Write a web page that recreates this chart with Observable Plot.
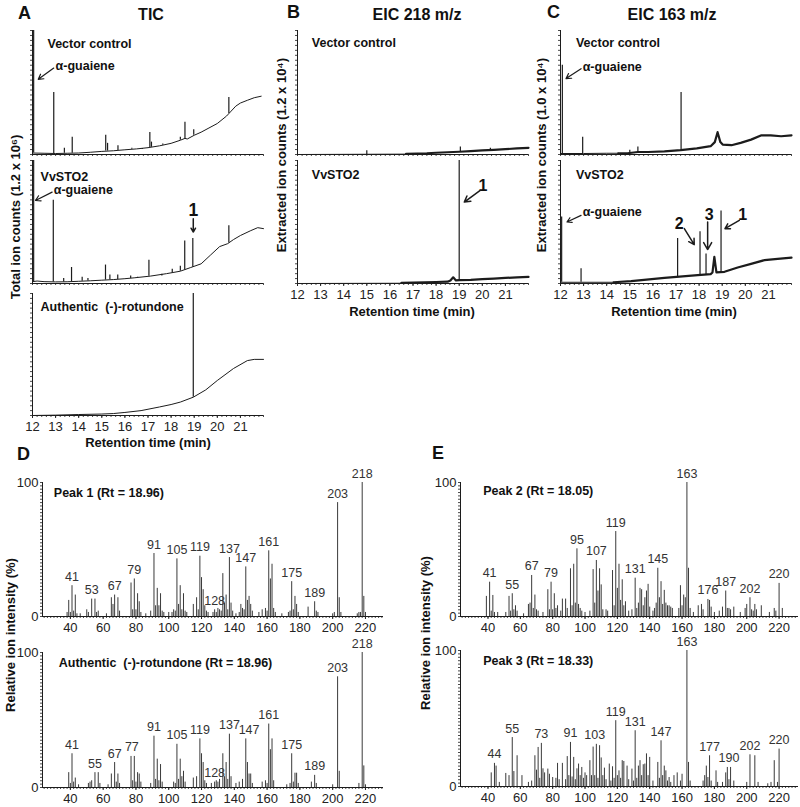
<!DOCTYPE html>
<html><head><meta charset="utf-8">
<script src="https://cdn.jsdelivr.net/npm/d3@7"></script>
<script src="https://cdn.jsdelivr.net/npm/@observablehq/plot@0.6"></script>
<style>
body{margin:0;background:#fff;font-family:"Liberation Sans",Arial,sans-serif;}
#fig{position:relative;width:800px;height:807px;overflow:hidden;background:#fff;}
.lbl{position:absolute;white-space:nowrap;color:#111;line-height:1;}
</style></head><body><div id="fig"></div>
<script>
// ---------------- DATA ----------------
const rtTicks = [12,13,14,15,16,17,18,19,20,21];
const mzTicks = [40,60,80,100,120,140,160,180,200,220];

// Panel A : TIC (relative %, 100 = full panel)   baseline [t, y]; peaks [t, base, top]
const ticVectorBase = [[12.0,1.2],[12.5,1],[13,0.8],[13.5,1],[14,1.2],[14.5,1.8],[15,2.5],[15.5,3],[16,3.8],[16.5,4.5],[17,5.5],[17.5,7],[18,9],[18.4,11.5],[18.6,13],[18.7,12.5],[19,15.5],[19.3,18],[19.6,21],[20,25],[20.4,31],[20.6,35],[20.8,39],[21,41.5],[21.3,43.7],[21.6,45.8],[21.9,47]];
const ticVectorPeaks = [[12.05,1.2,100],[12.92,0.8,50],[13.38,1,5],[13.72,1.1,14],[15.17,2.8,15.5],[15.25,2.8,9],[15.7,3.3,7],[16.3,4.2,5],[16.75,4.8,4],[17.08,5.6,17.7],[17.15,5.8,10],[17.64,7.5,8.5],[18.4,11.5,14],[18.6,12.5,26],[18.98,15.5,20],[20.5,33,46]];
const ticSto2Base = [[12.0,1.5],[12.2,2],[12.5,1.5],[13,1.3],[13.5,1.4],[14,1.8],[14.5,2.2],[15,2.7],[15.5,3.2],[16,3.9],[16.4,4.6],[17.1,6],[17.8,8],[18.4,10],[18.85,13],[19.3,16],[19.7,23],[20.1,30],[20.45,32.4],[20.7,35.7],[21,39],[21.45,43],[21.75,45.4],[22,44.6]];
const ticSto2Peaks = [[12.05,1.5,100],[12.9,1.3,67.6],[13.35,1.3,4],[13.69,1.5,13],[14.15,1.9,5],[14.4,2.1,4],[15.16,2.8,15],[15.35,3,7],[15.69,3.3,7],[16.25,4,6],[16.55,4.7,5],[17.04,5.8,19],[17.6,7.5,6],[18.05,8.6,11.6],[18.4,10,14],[18.59,11,34.6],[18.94,13.3,36.5],[20.5,33,47]];
const ticRotBase = [[12,0],[13,0.3],[14,0.8],[15,1.2],[15.5,1.6],[16,2.5],[16.7,4],[17.5,7],[18,9],[18.4,11],[18.96,15],[19.5,21],[20,28.7],[20.7,38.5],[21.3,45],[21.6,46],[22,46]];
const ticRotPeaks = [[18.96,15,100]];

// Panel B : EIC 218
const eic218VectorQuiet = [[12,0],[16.7,0.3]];
const eic218VectorNoisy = [[16.7,0.6],[17.2,0.8],[17.6,1],[18,1.4],[18.5,1.8],[19,2.2],[19.5,2.8],[20,3.3],[20.5,3.8],[21,4.3],[21.5,4.9],[22,5.4]];
const eic218VectorPeaks = [[15.0,0,3],[19.05,2.2,6],[20.35,3.6,5]];
const eic218Sto2Quiet = [[12,0],[16.5,0.2]];
const eic218Sto2Noisy = [[16.5,0.5],[17,0.8],[17.5,1],[18,1.2],[18.5,1.5],[18.62,2.5],[18.74,5],[18.86,2.5],[19,2.8],[19.5,3],[20,3.5],[20.5,4],[21,4.5],[21.5,5],[22,5.4]];
const eic218Sto2Peaks = [[19.0,2.8,100]];

// Panel C : EIC 163
const eic163VectorQuiet = [[12,0.8],[13,0.8],[14,1],[14.5,1]];
const eic163VectorNoisy = [[14.5,1],[14.9,1],[15.35,2],[15.8,2],[16.5,2.5],[17.2,3.5],[17.9,5],[18.5,6.7],[18.68,10],[18.8,18],[18.92,10],[19.02,8],[19.4,7.5],[19.8,9.4],[20.25,12],[20.7,15.5],[21.1,15.5],[21.55,14.7],[22,15.5]];
const eic163VectorPeaks = [[12.08,0.8,72],[12.96,0.8,14],[15.0,1.5,3.5],[15.35,2,6],[17.22,3.5,50]];
const eic163Sto2Quiet = [[12,1],[14.3,1]];
const eic163Sto2Noisy = [[14.3,1],[15.06,2],[16.5,4.6],[17.94,6.8],[18.5,7.6],[18.58,9],[18.66,21.6],[18.75,9],[19.1,9.5],[19.67,13],[20.25,16],[20.83,19],[21.4,20],[22,21]];
const eic163Sto2Peaks = [[12.05,1,54],[12.89,1,12],[17.07,5,36.5],[18.04,7,42],[18.3,7.3,24],[18.95,8.5,59]];

// annotation texts [text, t, y] and arrows [t1, y1, t2, y2]
const ticVectorNames = [["Vector control",12.65,89],["α-guaiene",13.0,71]];
const ticVectorArrows = [[12.92,69.7,12.25,60.6]];
const ticSto2Names = [["VvSTO2",12.35,86.5],["α-guaiene",12.92,76]];
const ticSto2Arrows = [[12.85,74.3,12.13,67.5]];
const ticSto2Nums = [["1",18.96,59.5]];
const ticSto2NumArrows = [[18.96,52.7,18.96,41.8]];
const ticRotNames = [["Authentic  (-)-rotundone",12.35,88.8]];
const eic218VectorNames = [["Vector control",12.62,89.8]];
const eic218Sto2Names = [["VvSTO2",12.62,88.6]];
const eic218Sto2Nums = [["1",20.03,79.7]];
const eic218Sto2NumArrows = [[19.91,75.7,19.22,66.2]];
const eic163VectorNames = [["Vector control",12.67,89.8],["α-guaiene",12.96,70.5]];
const eic163VectorArrows = [[12.89,69.2,12.24,61.2]];
const eic163Sto2Names = [["VvSTO2",12.67,88.6],["α-guaiene",12.96,58]];
const eic163Sto2Arrows = [[12.89,55.4,12.28,50]];
const eic163Sto2Nums = [["2",17.14,48.6],["3",18.44,55.4],["1",19.89,55.4]];
const eic163Sto2NumArrows = [[17.36,44.6,17.79,31.6],[18.37,50,18.37,27.6],[19.74,51.3,19.12,44.6]];

// Panels D, E : mass spectra [m/z, relative intensity %]
const peak1MS = [[38,3],[39,12],[40,3],[41,23],[42,4],[43,16],[44,2],[46,2],[50,5],[51,3],[53,13],[55,13],[56,3],[57,4],[62,2],[65,14],[66,9],[67,16],[69,14],[70,4],[77,25],[78,5],[79,28],[80,5],[81,17],[82,11],[83,3],[86,2],[89,4],[91,47],[92,8],[93,21],[94,8],[95,17],[96,4],[97,3],[100,3],[102,3],[103,5],[104,4],[105,43],[106,9],[107,23],[108,5],[109,17],[110,4],[111,3],[115,9],[117,14],[118,5],[119,45],[120,29],[121,20],[122,8],[123,4],[124,3],[127,3],[128,5],[129,3],[130,6],[131,5],[132,4],[133,32],[134,10],[135,16],[136,5],[137,44],[138,10],[139,4],[141,2],[143,3],[144,9],[145,6],[146,5],[147,37],[148,12],[149,15],[150,9],[151,4],[155,3],[157,5],[159,6],[160,4],[161,49],[162,28],[163,39],[164,6],[165,3],[169,2],[173,3],[174,4],[175,26],[176,5],[177,15],[178,9],[179,3],[185,7],[189,11],[190,4],[191,3],[200,2],[201,3],[203,85],[204,14],[205,3],[215,2],[216,3],[217,3],[218,100],[219,15],[220,3]];
const rotMS = [[39,11],[40,3],[41,25],[42,4],[43,7],[45,2],[51,3],[52,4],[53,5],[55,11],[57,11],[58,3],[63,2],[65,10],[67,18.5],[68,4],[69,10],[70,3],[77,23],[78,5],[79,23],[80,4],[81,11],[82,10],[83,4],[89,3],[91,38],[92,6],[93,21],[94,5],[95,17],[96,4],[103,4],[104,3],[105,32],[106,6],[107,21],[108,8],[109,12],[110,4],[115,7],[117,8],[119,36],[120,25],[121,18.5],[122,5],[123,3],[126,3],[128,4],[129,5],[130,4],[131,6],[133,25],[134,8],[135,18.5],[136,6],[137,39.5],[138,8],[141,3],[143,4],[145,6],[147,36],[148,18.5],[149,10],[150,10],[151,3],[157,4],[159,5],[160,3],[161,47],[162,28],[163,36],[164,5],[172,2],[174,3],[175,25],[176,4],[177,10.6],[178,10.6],[179,3],[187,4],[189,9],[190,3],[200,2],[203,82],[204,12],[216,3],[218,100],[219,16],[220,2]];
const peak2MS = [[39,15],[41,25.6],[42,4],[43,15.7],[44,3],[46,3],[51,3],[53,15],[54,4],[55,17],[56,5],[57,8],[58,4],[62,2],[65,9],[66,10],[67,30.6],[68,6],[69,16],[70,5],[71,4],[74,3],[77,20],[78,5],[79,25.6],[80,5],[81,17],[82,6],[83,8],[85,4],[86,13],[88,13],[89,6],[91,35.6],[92,8],[93,39],[94,10],[95,50.5],[96,9],[97,6],[98,4],[100,3],[103,4],[105,35],[106,10],[107,41.8],[108,19],[109,35.6],[110,23.6],[111,5],[113,5],[114,4],[117,34.3],[118,8],[119,63.4],[120,21],[121,39],[122,12],[123,27.4],[124,8],[125,11],[127,4],[129,5],[131,28.6],[132,6],[133,10],[134,21],[135,20],[136,8],[137,14],[138,19],[139,24],[140,7],[142,4],[143,6],[144,10],[145,36],[146,14],[147,26],[148,9],[149,19.5],[150,10],[151,8],[152,8],[153,7],[154,6],[158,6],[159,23],[160,8],[161,16],[162,14],[163,100],[164,36],[165,6],[167,3],[170,8],[172,9],[173,5],[176,12.7],[177,12],[178,7],[180,3],[183,4],[185,7],[187,19],[188,6],[189,6],[190,5],[192,7],[196,3],[199,6],[200,9],[202,14],[203,5],[204,4],[205,9],[206,5],[209,8],[214,3],[217,6],[218,4],[220,24.7],[222,6]];
const peak3MS = [[42,10],[44,17],[45,15],[47,3],[51,9.6],[53,8],[55,36],[56,11],[58,22.6],[61,8],[65,3],[67,4],[69,22.6],[70,12],[71,28.7],[72,6],[73,31.7],[74,13],[75,10],[77,12.8],[78,9],[80,6.6],[82,6],[83,17],[84,5],[86,17],[88,5],[89,22],[90,8],[91,32.4],[92,7],[93,21.4],[94,5],[95,13],[96,16.5],[97,8],[98,14],[99,6],[100,10],[101,8],[103,19],[104,8],[105,29],[106,8],[107,31],[108,6],[109,30],[110,21],[111,8],[112,13.5],[113,5],[115,16.5],[116,4],[117,14.5],[118,6],[119,48.4],[120,8],[121,11.5],[122,6],[123,19],[124,18.4],[126,15],[127,5],[129,12.8],[130,4],[131,41],[132,6],[133,15],[134,19],[135,8],[136,16],[137,16.5],[138,24],[139,8],[140,21.4],[142,4],[145,17.7],[146,6],[147,33.6],[148,8],[149,15],[150,11.5],[151,4],[152,6.6],[153,3],[155,8],[157,10],[159,4],[160,9],[163,100],[164,17.7],[165,4],[173,4],[174,8],[175,15],[176,6.6],[177,22.6],[178,4],[181,11.5],[182,3],[185,3],[187,10],[188,14],[189,5],[190,14],[192,4],[200,3],[202,23.3],[205,22.6],[207,3],[213,2],[215,3],[217,19],[219,3],[220,27.5]];

// peak labels [label, m/z position of label, height of labelled bar]
const peak1Labels = [[41,41,23],[53,53,13],[67,67,16],[79,79,28],[91,91,47],[105,105,43],[119,119,45],[128,128,5],[137,137,44],[147,147,37],[161,161,49],[175,175,26],[189,189,11],[203,203,85],[218,218,100]];
const rotLabels = [[41,41,25],[55,55,11],[67,67,18.5],[77,77.5,23],[91,91,38],[105,105,32],[119,119,36],[128,128,4],[137,137,39.5],[147,149,36],[161,161,47],[175,175,25],[189,189,9],[203,203,82],[218,218,100]];
const peak2Labels = [[41,41,25.6],[55,55,17],[67,67,30.6],[79,79,25.6],[95,95,50.5],[107,107,41.8],[119,119,63.4],[131,131,28.6],[145,145,36],[163,163,100],[176,176,12.7],[187,187,19],[202,202,14],[220,220,24.7]];
const peak3Labels = [[44,44,17],[55,55,36],[73,73,31.7],[91,91,32.4],[103,106,31],[119,119,48.4],[131,131,41],[147,147,33.6],[163,163,100],[177,177,22.6],[190,189,14],[202,202,23.3],[220,220,27.5]];

const specTitles = {
  d1: ["Peak 1 (Rt = 18.96)", 29.9, 92],
  d2: ["Authentic  (-)-rotundone (Rt = 18.96)", 32.9, 92],
  e1: ["Peak 2 (Rt = 18.05)", 37, 94],
  e2: ["Peak 3 (Rt = 18.33)", 37, 92]
};

// ---------------- DRAWING ----------------
const FONT = "'Liberation Sans', Arial, sans-serif";
const INK = "#1c1c1c";
const fig = document.getElementById("fig");

function label(text, x, y, {size = 13, weight = "bold", anchor = "middle", rotate = 0, color = "#111"} = {}) {
  const d = document.createElement("div");
  d.className = "lbl";
  d.textContent = text;
  d.style.left = x + "px";
  d.style.top = y + "px";
  d.style.fontSize = size + "px";
  d.style.fontWeight = weight;
  d.style.color = color;
  const tx = anchor === "start" ? "0" : anchor === "end" ? "-100%" : "-50%";
  d.style.transform = `translate(${tx},-50%)` + (rotate ? ` rotate(${rotate}deg)` : "");
  fig.appendChild(d);
}

function mkPlot({x0, y0, w, h, xDomain, mB, marks}) {
  const mL = 40, mR = 20, mT = 14;
  const p = Plot.plot({
    width: w + mL + mR, height: h + mT + mB,
    marginLeft: mL, marginRight: mR, marginTop: mT, marginBottom: mB,
    style: `font-family: ${FONT}; background: transparent; overflow: visible;`,
    x: {domain: xDomain, axis: null},
    y: {domain: [0, 100], axis: null},
    marks
  });
  p.style.position = "absolute";
  p.style.left = (x0 - mL) + "px";
  p.style.top = (y0 - mT) + "px";
  p.style.maxWidth = "none";
  fig.appendChild(p);
}

function chrom({x0, y0, h, quiet, noisy, peaks, names = [], arrows = [], nums = [], numArrows = [], numSize = 16, labelled = false, noisyW = 2.2}) {
  const marks = [
    Plot.axisX({ticks: d3.range(12, 22.001, 0.2), tickSize: 2, tickFormat: () => "", label: null, color: INK, strokeWidth: 0.8}),
    Plot.axisY({ticks: d3.range(0, 100.1, 4), tickSize: 2, tickFormat: () => "", label: null, anchor: "left", color: INK, strokeWidth: 0.8}),
    Plot.ruleY([0], {stroke: INK, strokeWidth: 1}),
    Plot.ruleX([12], {stroke: INK, strokeWidth: 1}),
    Plot.line(quiet, {x: d => d[0], y: d => d[1], stroke: INK, strokeWidth: 1}),
    Plot.line(noisy, {x: d => d[0], y: d => d[1], stroke: INK, strokeWidth: noisyW}),
    Plot.ruleX(peaks, {x: d => d[0], y1: d => d[1], y2: d => d[2], stroke: INK, strokeWidth: 1.2}),
    Plot.text(names, {x: d => d[1], y: d => d[2], text: d => d[0], textAnchor: "start", fontWeight: "bold", fontSize: 12.5, fill: "#111"}),
    Plot.arrow(arrows, {x1: d => d[0], y1: d => d[1], x2: d => d[2], y2: d => d[3], stroke: INK, strokeWidth: 1.2, headLength: 7}),
    Plot.text(nums, {x: d => d[1], y: d => d[2], text: d => d[0], textAnchor: "middle", fontWeight: "bold", fontSize: numSize, fill: "#111"}),
    Plot.arrow(numArrows, {x1: d => d[0], y1: d => d[1], x2: d => d[2], y2: d => d[3], stroke: INK, strokeWidth: 1.5, headLength: 8})
  ];
  if (labelled) marks.push(Plot.axisX({ticks: rtTicks, tickSize: 3, tickPadding: 3, fontSize: 13, label: null, color: "#222"}));
  mkPlot({x0, y0, w: 231, h, xDomain: [12, 22], mB: labelled ? 30 : 8, marks});
}

function spectrum({x0, y0, w, h, domain, bars, labels, title}) {
  const marks = [
    Plot.axisX({ticks: d3.range(24, domain[1], 2), tickSize: 2, tickFormat: () => "", label: null, color: INK, strokeWidth: 0.8}),
    Plot.axisX({ticks: mzTicks, tickSize: 3, tickPadding: 3, fontSize: 13, label: null, color: "#222"}),
    Plot.axisY({ticks: d3.range(0, 100.1, 2.5), tickSize: 2, tickFormat: () => "", label: null, anchor: "left", color: INK, strokeWidth: 0.8}),
    Plot.axisY({ticks: [0, 100], tickSize: 0, tickPadding: 4, fontSize: 13, label: null, anchor: "left", color: "#222"}),
    Plot.ruleY([0], {stroke: INK}),
    Plot.ruleX([domain[0]], {stroke: INK}),
    Plot.ruleX(bars, {x: d => d[0], y1: 0, y2: d => d[1], stroke: "#3a3a3a", strokeWidth: 1}),
    Plot.text(labels, {x: d => d[1], y: d => d[2], text: d => String(d[0]), dy: -9, fontSize: 12.5, fill: "#333"}),
    Plot.text([title], {x: d => d[1], y: d => d[2], text: d => d[0], textAnchor: "start", fontWeight: "bold", fontSize: 12.5, fill: "#111"})
  ];
  mkPlot({x0, y0, w, h, xDomain: domain, mB: 30, marks});
}

// Panel A
chrom({x0: 32, y0: 30, h: 124, quiet: ticVectorBase, noisy: [], peaks: ticVectorPeaks, names: ticVectorNames, arrows: ticVectorArrows});
chrom({x0: 32, y0: 160, h: 123, quiet: ticSto2Base, noisy: [], peaks: ticSto2Peaks, names: ticSto2Names, arrows: ticSto2Arrows, nums: ticSto2Nums, numArrows: ticSto2NumArrows, numSize: 17.5});
chrom({x0: 32, y0: 293, h: 122, quiet: ticRotBase, noisy: [], peaks: ticRotPeaks, names: ticRotNames, labelled: true});
// Panel B
chrom({x0: 297, y0: 30, h: 124, quiet: eic218VectorQuiet, noisy: eic218VectorNoisy, peaks: eic218VectorPeaks, names: eic218VectorNames});
chrom({x0: 297, y0: 160, h: 123, quiet: eic218Sto2Quiet, noisy: eic218Sto2Noisy, peaks: eic218Sto2Peaks, names: eic218Sto2Names, nums: eic218Sto2Nums, numArrows: eic218Sto2NumArrows, numSize: 16, labelled: true});
// Panel C
chrom({x0: 559.5, y0: 30, h: 124, quiet: eic163VectorQuiet, noisy: eic163VectorNoisy, peaks: eic163VectorPeaks, names: eic163VectorNames, arrows: eic163VectorArrows});
chrom({x0: 559.5, y0: 160, h: 123, quiet: eic163Sto2Quiet, noisy: eic163Sto2Noisy, peaks: eic163Sto2Peaks, names: eic163Sto2Names, arrows: eic163Sto2Arrows, nums: eic163Sto2Nums, numArrows: eic163Sto2NumArrows, numSize: 16, labelled: true});
// Panel D
spectrum({x0: 42, y0: 482, w: 341, h: 134, domain: [23, 231], bars: peak1MS, labels: peak1Labels, title: specTitles.d1});
spectrum({x0: 42, y0: 652, w: 341, h: 135, domain: [23, 231], bars: rotMS, labels: rotLabels, title: specTitles.d2});
// Panel E
spectrum({x0: 460, y0: 482, w: 338, h: 134, domain: [23, 232], bars: peak2MS, labels: peak2Labels, title: specTitles.e1});
spectrum({x0: 460, y0: 650, w: 338, h: 136, domain: [23, 232], bars: peak3MS, labels: peak3Labels, title: specTitles.e2});

// Titles and axis labels
label("A", 18, 13, {size: 18, anchor: "start"});
label("TIC", 151, 15, {size: 16});
label("B", 287, 12, {size: 18, anchor: "start"});
label("EIC 218 m/z", 417, 15, {size: 16});
label("C", 547, 12, {size: 18, anchor: "start"});
label("EIC 163 m/z", 672, 15, {size: 16});
label("D", 17, 454, {size: 18, anchor: "start"});
label("E", 432, 453, {size: 18, anchor: "start"});
label("Retention time (min)", 148, 442, {size: 13});
label("Retention time (min)", 412, 311, {size: 13});
label("Retention time (min)", 674, 311, {size: 13});
label("Total ion counts (1.2 x 10⁶)", 15, 217, {size: 13, rotate: -90});
label("Extracted ion counts (1.2 x 10⁴)", 281, 155, {size: 13, rotate: -90});
label("Extracted ion counts (1.0 x 10⁴)", 541, 155, {size: 13, rotate: -90});
label("Relative ion intensity (%)", 10, 635, {size: 13, rotate: -90});
label("Relative ion intensity (%)", 425, 633, {size: 13, rotate: -90});
</script></body></html>
